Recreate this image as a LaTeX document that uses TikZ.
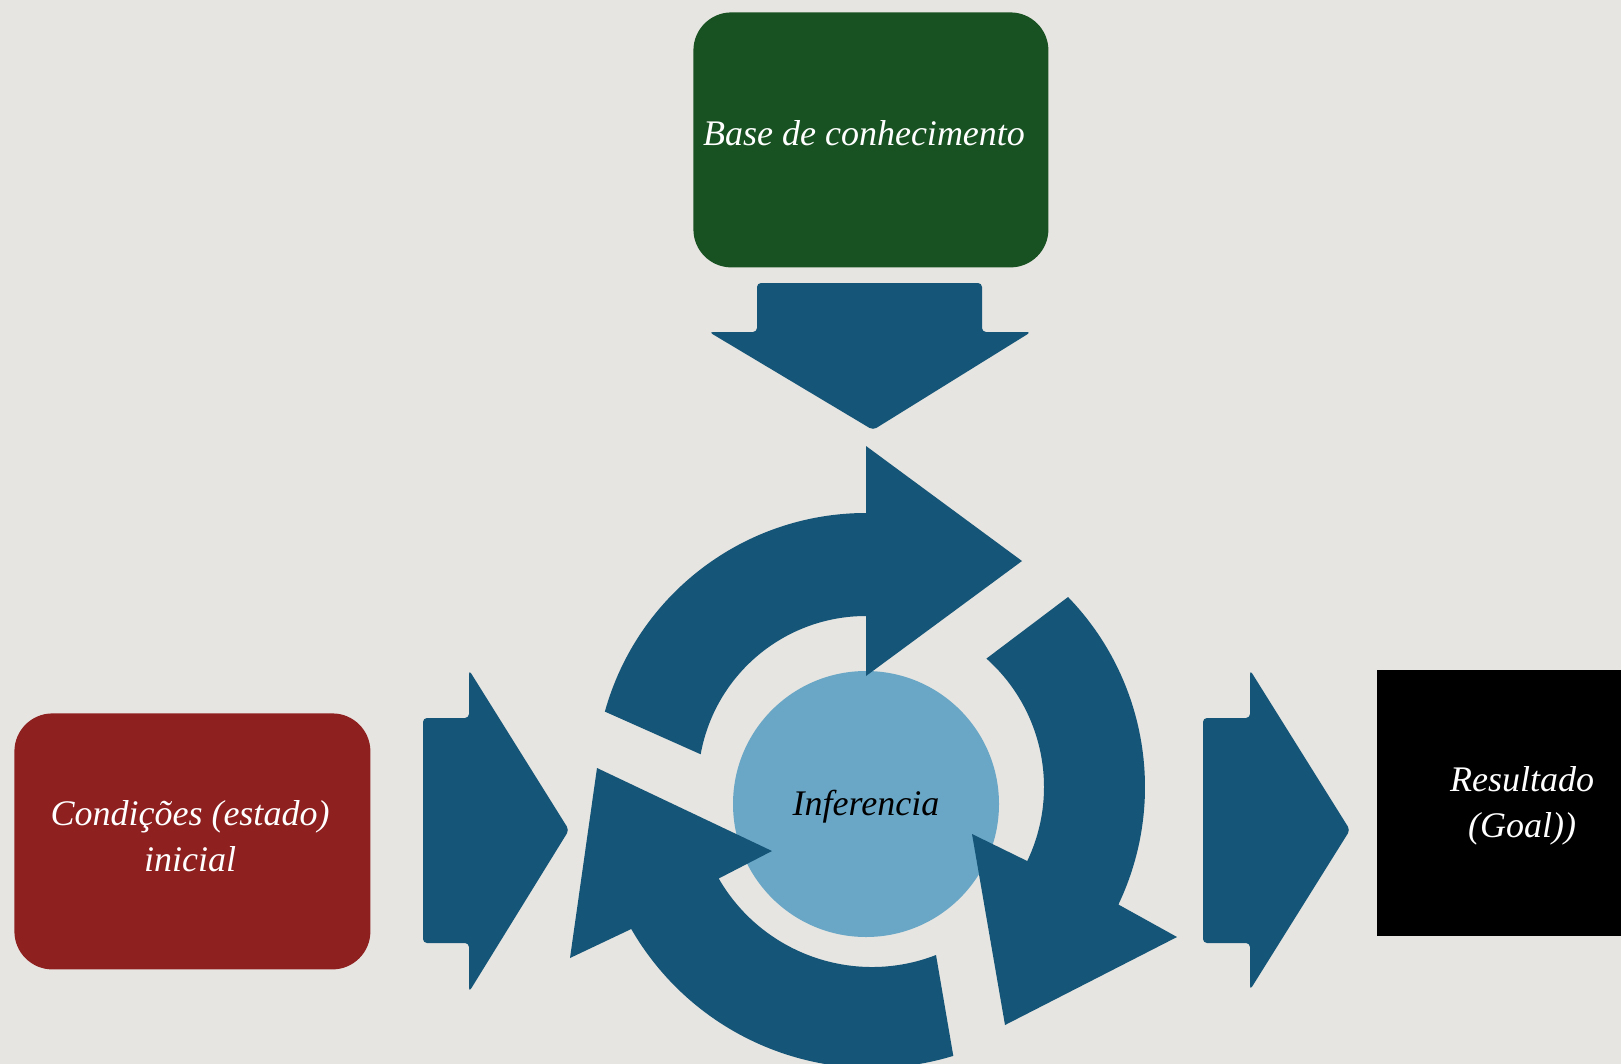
\documentclass[tikz,border=0pt]{standalone}
\usepackage{fontspec}
\setmainfont{Liberation Serif}
\usetikzlibrary{calc}
\definecolor{bg}{RGB}{231,229,225}
\definecolor{arrowblue}{RGB}{21,85,120}
\definecolor{boxgreen}{RGB}{24,82,34}
\definecolor{boxred}{RGB}{142,32,32}
\definecolor{innerblue}{RGB}{106,167,198}
\begin{document}
\begin{tikzpicture}[x=0.5pt,y=0.5pt,
  bluearrow/.style={fill=arrowblue, draw=none},
  boxnode/.style={draw=none, inner sep=0pt, anchor=north west},
  labeltext/.style={font=\fontsize{18}{23}\selectfont\itshape, text=white, align=center, inner sep=0pt},
  ]
\fill[bg] (0,0) rectangle (1621,-1064);
\useasboundingbox (0,0) rectangle (1621,-1064);
\coordinate (Ctop) at (866,-784);
\coordinate (Cright) at (872,-787);
\coordinate (Cbot) at (872,-790);

% boxes
\node[boxnode, fill=boxgreen, rounded corners=19pt, minimum width=177.5pt, minimum height=127.5pt] (kb) at (693,-12) {};
\node[boxnode, fill=boxred, rounded corners=19pt, minimum width=178pt, minimum height=128pt] (cond) at (14,-713) {};
\node[boxnode, fill=black, minimum width=123pt, minimum height=133pt] (res) at (1377,-670) {};

% down arrow
\fill[bluearrow, rounded corners=2pt] (757,-283) -- (982,-283) -- (982,-332) -- (1031,-332) -- (873,-430) -- (709,-332) -- (757,-332) -- cycle;
% left block arrow
\fill[bluearrow, rounded corners=2pt] (423,-718) -- (469,-718) -- (469,-670) -- (569,-830) -- (469,-992) -- (469,-943) -- (423,-943) -- cycle;
% right block arrow
\fill[bluearrow, rounded corners=2pt] (1203,-718) -- (1250,-718) -- (1250,-670) -- (1350,-830) -- (1250,-990) -- (1250,-943) -- (1203,-943) -- cycle;

% inner circle
\node[circle, fill=innerblue, minimum size=133pt, inner sep=0pt] (infc) at (866,-804) {};

% circular arrows
\fill[bluearrow] ($(Ctop)+(164.5:271)$) arc[start angle=164.5, end angle=90, radius=271]
  -- (866,-446) -- (1022,-561) -- (866,-676) -- ($(Ctop)+(90:168)$)
  arc[start angle=90, end angle=169.8, radius=168] -- cycle;
\fill[bluearrow] ($(Cright)+(44.1:273)$) arc[start angle=44.1, end angle=-25.5, radius=273]
  -- (1177,-937) -- (1005,-1025) -- (972,-834) -- ($(Cright)+(-25.5:172)$)
  arc[start angle=-25.5, end angle=48.3, radius=172] -- cycle;
\fill[bluearrow] ($(Cbot)+(-73:278)$) arc[start angle=-73, end angle=-150, radius=278]
  -- (570,-958) -- (597,-768) -- (772,-851) -- ($(Cbot)+(-150:177)$)
  arc[start angle=-150, end angle=-68.8, radius=177] -- cycle;

% texts
\node[labeltext, anchor=base] (kbtext) at (864,-146) {Base de conhecimento};
\node[labeltext] (condtext) at (190,-836) {Condições (estado)\\inicial};
\node[labeltext] (restext) at (1522,-806) {Resultado\\(Goal))};
\node[labeltext, text=black, anchor=base] (inftext) at (866,-815) {Inferencia};
\end{tikzpicture}
\end{document}
